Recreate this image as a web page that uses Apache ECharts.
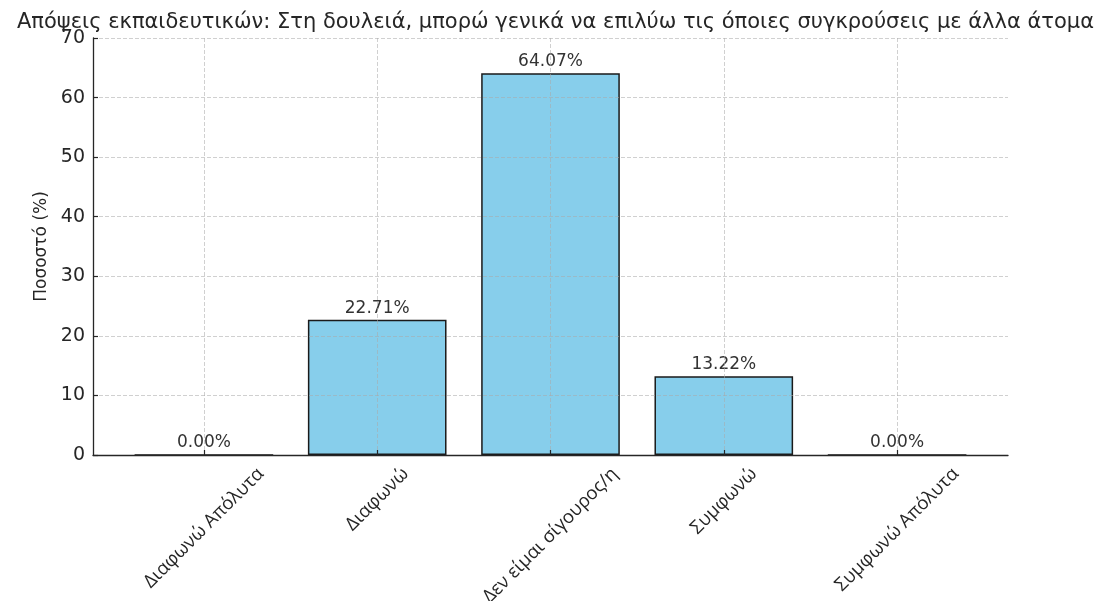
<!DOCTYPE html>
<html>
<head>
<meta charset="utf-8">
<script src="https://cdn.jsdelivr.net/npm/echarts@6/dist/echarts.min.js"></script>
<style>
  html, body { margin: 0; padding: 0; background: #fff; }
  #chart { width: 1096px; height: 601px; }
</style>
</head>
<body>
<div id="chart"></div>
<script>
const titleText = 'Απόψεις εκπαιδευτικών: Στη δουλειά, μπορώ γενικά να επιλύω τις όποιες συγκρούσεις με άλλα άτομα';
const categories = ['Διαφωνώ Απόλυτα', 'Διαφωνώ', 'Δεν είμαι σίγουρος/η', 'Συμφωνώ', 'Συμφωνώ Απόλυτα'];
const percentages = [0.00, 22.71, 64.07, 13.22, 0.00];
const yTicks = [0, 10, 20, 30, 40, 50, 60, 70];
const yName = 'Ποσοστό (%)';

// plot frame
const gridLeft = 93, gridRight = 88, gridTop = 38, gridBottom = 146;
const plotWidth = 1096 - gridLeft - gridRight;
const xMin = -0.64, xMax = categories.length - 1 + 0.64;
const unitPx = plotWidth / (xMax - xMin);
const barWidthUnits = 0.8;

const catFontSize = 18.5;
const ctx = document.createElement('canvas').getContext('2d');
ctx.font = catFontSize + 'px "Open Sans"';

// rotated category labels are centred under their tick: shift each label's
// end point right by half its rotated run
const labelPositions = categories.map((c, i) => {
  const w = ctx.measureText(c).width;
  return i + (w * Math.SQRT1_2 / 2) / unitPx;
});
const tickPositions = categories.map((c, i) => i);

const chart = echarts.init(document.getElementById('chart'), null, { renderer: 'canvas' });

chart.setOption({
  animation: false,
  backgroundColor: '#ffffff',
  title: {
    text: titleText,
    left: gridLeft + plotWidth / 2,
    textAlign: 'center',
    top: 7,
    textStyle: {
      fontFamily: 'DejaVu Sans',
      fontSize: 21,
      fontWeight: 'normal',
      color: '#262626'
    }
  },
  grid: {
    left: gridLeft, right: gridRight, top: gridTop, bottom: gridBottom,
    containLabel: false,
    outerBoundsMode: 'none'
  },
  xAxis: {
    type: 'value',
    min: xMin,
    max: xMax,
    z: 3,
    axisLine: { show: true, onZero: false, lineStyle: { color: '#262626', width: 1.3 } },
    axisTick: {
      show: true, inside: true, length: 5,
      customValues: tickPositions,
      lineStyle: { color: '#262626', width: 1.2 }
    },
    axisLabel: {
      show: true,
      customValues: labelPositions,
      rotate: 45,
      margin: 16,
      hideOverlap: false,
      fontFamily: 'Open Sans',
      fontSize: catFontSize,
      color: '#262626',
      formatter: (v) => categories[Math.round(v)]
    },
    splitLine: {
      show: true,
      lineStyle: { color: 'rgba(170,170,170,0.55)', type: [4, 2], width: 1 }
    }
  },
  yAxis: {
    type: 'value',
    min: 0,
    max: yTicks[yTicks.length - 1],
    interval: 10,
    z: 3,
    name: yName,
    nameLocation: 'middle',
    nameRotate: 90,
    nameGap: 42,
    nameTextStyle: { fontFamily: 'DejaVu Sans', fontSize: 17, color: '#262626' },
    axisLine: { show: true, onZero: false, lineStyle: { color: '#262626', width: 1.3 } },
    axisTick: { show: true, inside: true, length: 5, lineStyle: { color: '#262626', width: 1.2 } },
    axisLabel: {
      fontFamily: 'DejaVu Sans', fontSize: 19, color: '#262626', margin: 8,
      formatter: (v) => String(v)
    },
    splitLine: {
      show: true,
      lineStyle: { color: 'rgba(170,170,170,0.55)', type: [4, 2], width: 1 }
    }
  },
  series: [{
    type: 'bar',
    data: percentages.map((v, i) => [i, v]),
    barWidth: barWidthUnits * unitPx,
    z: 2,
    itemStyle: { color: '#87CEEB', borderColor: '#1a1a1a', borderWidth: 1.5 },
    label: {
      show: true,
      position: 'top',
      distance: 3,
      fontFamily: 'DejaVu Sans',
      fontSize: 17,
      color: '#333333',
      formatter: (p) => p.value[1].toFixed(2) + '%'
    }
  }]
});
</script>
</body>
</html>
